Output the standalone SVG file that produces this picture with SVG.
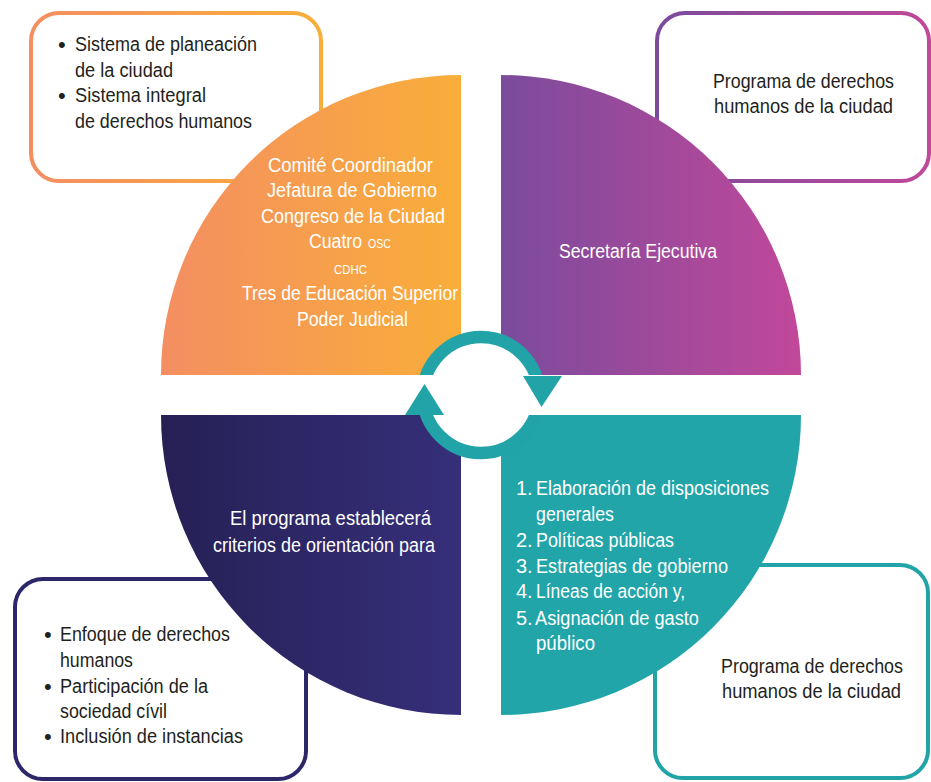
<svg xmlns="http://www.w3.org/2000/svg" width="931" height="782" viewBox="0 0 931 782">
<defs>
<linearGradient id="gOrange" x1="0" y1="0" x2="1" y2="0"><stop offset="0" stop-color="#f48e62"/><stop offset="1" stop-color="#f9ae39"/></linearGradient>
<linearGradient id="gPurple" x1="0" y1="0" x2="1" y2="0"><stop offset="0" stop-color="#7b4b9c"/><stop offset="1" stop-color="#c1489a"/></linearGradient>
<linearGradient id="gNavy" x1="0" y1="0" x2="1" y2="0"><stop offset="0" stop-color="#262055"/><stop offset="1" stop-color="#362f7a"/></linearGradient>
<style>
.box{fill:#ffffff;stroke-width:4}
.dk{font-family:"Liberation Sans",Arial,sans-serif;font-size:20px;fill:#231f20}
.wt{font-family:"Liberation Sans",Arial,sans-serif;font-size:20px;fill:#ffffff}
.sm{font-size:13.5px}
.bl{font-size:22px}
</style>
</defs>

<g id="box-top-left">
<rect class="box" x="31" y="13" width="290" height="168" rx="28" stroke="url(#gOrange)"/>
<text class="dk bl" x="58" y="52">•</text>
<text class="dk" x="75" y="51" textLength="182" lengthAdjust="spacingAndGlyphs">Sistema de planeación</text>
<text class="dk" x="75" y="77" textLength="98" lengthAdjust="spacingAndGlyphs">de la ciudad</text>
<text class="dk bl" x="58" y="103">•</text>
<text class="dk" x="75" y="102" textLength="131" lengthAdjust="spacingAndGlyphs">Sistema integral</text>
<text class="dk" x="75" y="128" textLength="177" lengthAdjust="spacingAndGlyphs">de derechos humanos</text>
</g>

<g id="box-top-right">
<rect class="box" x="657" y="13" width="272" height="168" rx="28" stroke="url(#gPurple)"/>
<text class="dk" x="713" y="88" textLength="181" lengthAdjust="spacingAndGlyphs">Programa de derechos</text>
<text class="dk" x="714" y="113" textLength="179" lengthAdjust="spacingAndGlyphs">humanos de la ciudad</text>
</g>

<g id="box-bottom-left">
<rect class="box" x="15" y="579" width="291" height="200" rx="28" stroke="#2b2768"/>
<text class="dk bl" x="44" y="642">•</text>
<text class="dk" x="60" y="641" textLength="170" lengthAdjust="spacingAndGlyphs">Enfoque de derechos</text>
<text class="dk" x="60" y="667" textLength="73" lengthAdjust="spacingAndGlyphs">humanos</text>
<text class="dk bl" x="44" y="694">•</text>
<text class="dk" x="60" y="693" textLength="148" lengthAdjust="spacingAndGlyphs">Participación de la</text>
<text class="dk" x="60" y="718" textLength="107" lengthAdjust="spacingAndGlyphs">sociedad cívil</text>
<text class="dk bl" x="44" y="744">•</text>
<text class="dk" x="60" y="743" textLength="183" lengthAdjust="spacingAndGlyphs">Inclusión de instancias</text>
</g>

<g id="box-bottom-right">
<rect class="box" x="655" y="565" width="273" height="213" rx="28" stroke="#21a3a7"/>
<text class="dk" x="721" y="673" textLength="182" lengthAdjust="spacingAndGlyphs">Programa de derechos</text>
<text class="dk" x="722" y="698" textLength="179" lengthAdjust="spacingAndGlyphs">humanos de la ciudad</text>
</g>

<g id="quadrant-top-left">
<path d="M461,375 L161,375 A300,300 0 0 1 461,75 Z" fill="url(#gOrange)"/>
<text class="wt" x="268" y="172" textLength="165" lengthAdjust="spacingAndGlyphs">Comité Coordinador</text>
<text class="wt" x="267" y="197" textLength="170" lengthAdjust="spacingAndGlyphs">Jefatura de Gobierno</text>
<text class="wt" x="261" y="223" textLength="184" lengthAdjust="spacingAndGlyphs">Congreso de la Ciudad</text>
<text class="wt" x="309" y="248" textLength="53" lengthAdjust="spacingAndGlyphs">Cuatro</text>
<text class="wt sm" x="368" y="248" textLength="23" lengthAdjust="spacingAndGlyphs">OSC</text>
<text class="wt sm" x="334" y="274" textLength="33" lengthAdjust="spacingAndGlyphs">CDHC</text>
<text class="wt" x="242" y="300" textLength="216" lengthAdjust="spacingAndGlyphs">Tres de Educación Superior</text>
<text class="wt" x="297" y="326" textLength="111" lengthAdjust="spacingAndGlyphs">Poder Judicial</text>
</g>

<g id="quadrant-top-right">
<path d="M501,375 L501,75 A300,300 0 0 1 801,375 Z" fill="url(#gPurple)"/>
<text class="wt" x="559" y="258" textLength="158" lengthAdjust="spacingAndGlyphs">Secretaría Ejecutiva</text>
</g>

<g id="quadrant-bottom-left">
<path d="M461,415 L461,715 A300,300 0 0 1 161,415 Z" fill="url(#gNavy)"/>
<text class="wt" x="230" y="525" textLength="201" lengthAdjust="spacingAndGlyphs">El programa establecerá</text>
<text class="wt" x="213" y="552" textLength="222" lengthAdjust="spacingAndGlyphs">criterios de orientación para</text>
</g>

<g id="quadrant-bottom-right">
<path d="M501,415 L801,415 A300,300 0 0 1 501,715 Z" fill="#21a5a9"/>
<text class="wt" x="516" y="495">1.</text>
<text class="wt" x="536" y="495" textLength="233" lengthAdjust="spacingAndGlyphs">Elaboración de disposiciones</text>
<text class="wt" x="536" y="521" textLength="78" lengthAdjust="spacingAndGlyphs">generales</text>
<text class="wt" x="516" y="547">2.</text>
<text class="wt" x="536" y="547" textLength="138" lengthAdjust="spacingAndGlyphs">Políticas públicas</text>
<text class="wt" x="516" y="573">3.</text>
<text class="wt" x="536" y="573" textLength="192" lengthAdjust="spacingAndGlyphs">Estrategias de gobierno</text>
<text class="wt" x="516" y="598">4.</text>
<text class="wt" x="536" y="598" textLength="149" lengthAdjust="spacingAndGlyphs">Líneas de acción y,</text>
<text class="wt" x="516" y="625">5.</text>
<text class="wt" x="535" y="625" textLength="164" lengthAdjust="spacingAndGlyphs">Asignación de gasto</text>
<text class="wt" x="536" y="650" textLength="59" lengthAdjust="spacingAndGlyphs">público</text>
</g>

<g id="connectors">
<circle cx="481" cy="395" r="58" fill="#ffffff" stroke="#21a3a7" stroke-width="12.5"/>
<rect x="400" y="375" width="165" height="40" fill="#ffffff"/>
<polygon points="523,376 562,376 541.5,407" fill="#21a3a7"/>
<polygon points="405,415 444,415 424.5,384" fill="#21a3a7"/>
</g>
</svg>
